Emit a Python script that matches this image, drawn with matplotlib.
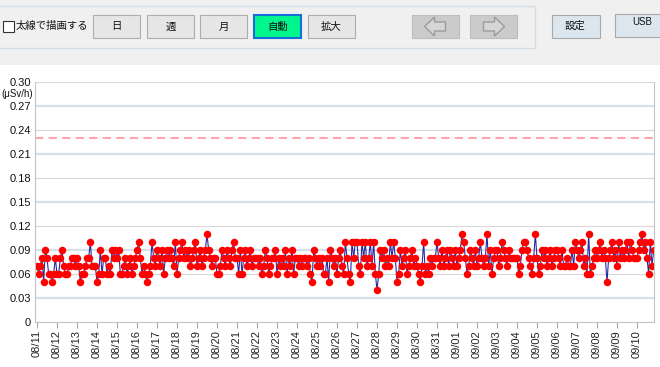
import matplotlib
matplotlib.use('Agg')
import matplotlib.pyplot as plt
import matplotlib.dates as mdates
from matplotlib.patches import Rectangle, Polygon
import numpy as np
import pandas as pd

plt.rcParams['font.family'] = ['Liberation Sans', 'Noto Sans CJK JP', 'DejaVu Sans']

# 測定開始と間隔 (2時間ごと)
start = '2019-08-11'
step = '2h'
threshold = 0.23

# 線量 (0.01 μSv/h 単位)
aug_11_16 = [7, 6, 7, 8, 5, 9, 8, 6, 6, 5, 6, 8,
             6, 6, 8, 9, 7, 6, 6, 7, 7, 8, 8, 7,
             8, 7, 5, 6, 6, 7, 8, 8, 10, 7, 7, 7,
             5, 6, 9, 6, 8, 8, 6, 7, 6, 9, 8, 9,
             8, 9, 6, 6, 7, 8, 6, 7, 8, 6, 7, 8,
             9, 10, 8, 6, 7, 6, 5, 6, 7, 10, 8, 7]
aug_17_22 = [9, 8, 7, 9, 6, 8, 9, 8, 9, 8, 7, 10,
             6, 8, 9, 10, 8, 9, 8, 9, 7, 8, 9, 10,
             7, 8, 9, 7, 8, 9, 11, 9, 8, 7, 8, 8,
             6, 6, 7, 9, 8, 7, 9, 8, 7, 9, 10, 8,
             8, 6, 9, 6, 8, 9, 7, 8, 9, 7, 8, 8,
             8, 7, 8, 6, 7, 9, 8, 6, 7, 8, 8, 9]
aug_23_28 = [6, 8, 7, 8, 7, 9, 6, 8, 7, 9, 6, 8,
             8, 7, 8, 7, 8, 8, 7, 8, 6, 5, 9, 8,
             7, 8, 7, 8, 6, 6, 8, 5, 9, 8, 7, 8,
             6, 8, 9, 7, 6, 10, 8, 6, 5, 10, 8, 10,
             10, 7, 6, 10, 8, 10, 7, 8, 10, 7, 10, 6,
             4, 6, 9, 8, 9, 7, 8, 7, 10, 8, 10, 8]
aug_29_sep_03 = [5, 6, 9, 7, 8, 9, 6, 7, 8, 9, 7, 8,
                 7, 6, 5, 7, 10, 6, 7, 6, 8, 7, 8, 8,
                 10, 8, 7, 9, 7, 8, 9, 7, 9, 8, 7, 9,
                 7, 8, 9, 11, 10, 8, 6, 7, 9, 8, 7, 9,
                 7, 8, 10, 8, 7, 8, 11, 7, 9, 6, 8, 9,
                 9, 7, 8, 10, 9, 8, 7, 9, 8, 8, 8, 8]
sep_04_10 = [8, 6, 7, 9, 10, 10, 9, 8, 7, 6, 8, 11,
             8, 6, 7, 9, 8, 9, 7, 8, 9, 7, 8, 9,
             9, 8, 7, 9, 7, 7, 8, 7, 7, 9, 7, 10,
             9, 8, 9, 10, 7, 8, 6, 11, 6, 7, 8, 9,
             8, 9, 10, 8, 9, 8, 5, 8, 9, 10, 8, 9,
             7, 10, 8, 9, 8, 9, 10, 8, 10, 9, 8, 8,
             8, 9, 10, 11, 9, 10, 8, 6, 10, 7, 9]

y_ticks = [0, 0.03, 0.06, 0.09, 0.12, 0.15, 0.18, 0.21, 0.24, 0.27, 0.30]
y_labels = ['0', '0.03', '0.06', '0.09', '0.12', '0.15', '0.18', '0.21', '0.24', '0.27', '0.30']
period_buttons = ['日', '週', '月', '自動', '拡大']

dose = np.array(aug_11_16 + aug_17_22 + aug_23_28 + aug_29_sep_03 + sep_04_10) / 100.0
times = pd.date_range(start, periods=len(dose), freq=step)

fig = plt.figure(figsize=(6.6, 3.67), dpi=100)

# 上部のツールバー (ピクセル座標)
ui = fig.add_axes([0, 0, 1, 1], zorder=-1)
ui.set_xlim(0, 660)
ui.set_ylim(367, 0)
ui.axis('off')
ui.add_patch(Rectangle((0, 0), 660, 65, fc='#f0f0f0', ec='none'))
ui.plot([0, 535, 535, 0], [6, 6, 48, 48], color='#d3dde6', lw=1)

ui.add_patch(Rectangle((3, 21), 11, 11, fc='white', ec='#333333', lw=0.8))
ui.text(16, 26.5, '太線で描画する', fontsize=7.5, va='center', ha='left', color='#111111')

btn_x = [93, 147, 200, 254, 308]
for x0, label in zip(btn_x, period_buttons):
    if label == '自動':
        ui.add_patch(Rectangle((x0, 15), 47, 23, fc='#00f58c', ec='#1470d8', lw=1.5))
    else:
        ui.add_patch(Rectangle((x0, 15), 47, 23, fc='#e6e6e6', ec='#adadad', lw=0.8))
    ui.text(x0 + 23.5, 26.5, label, fontsize=7.5, ha='center', va='center', color='#111111')

# 矢印ボタン
for x0, d in [(412, -1), (470, 1)]:
    ui.add_patch(Rectangle((x0, 15), 47, 23, fc='#cbcbcb', ec='#bdbdbd', lw=0.8))
    cx = x0 + 23.5
    tip = cx + d * 11
    base = cx + d * 1
    tail = cx - d * 10
    ui.add_patch(Polygon([(tip, 26.5), (base, 17), (base, 22), (tail, 22),
                          (tail, 31), (base, 31), (base, 36)],
                         closed=True, fc='#d6d6d6', ec='#9c9c9c', lw=1))

ui.add_patch(Rectangle((552, 15), 48, 23, fc='#dce6ee', ec='#a8a8a8', lw=0.8))
ui.text(575, 26, '設定', fontsize=7.5, ha='center', va='center', color='#111111')
ui.add_patch(Rectangle((615, 14), 50, 23, fc='#dce6ee', ec='#a8a8a8', lw=0.8))
ui.text(642, 22, 'USB', fontsize=7, ha='center', va='center', color='#111111')

ui.text(1, 94, '(μSv/h)', fontsize=7, ha='left', va='center', color='#111111')

# グラフ本体
ax = fig.add_axes([35 / 660, 45 / 367, 619 / 660, 240 / 367])
for i, t in enumerate(y_ticks):
    if i % 2 == 1:
        ax.axhline(t, color='#d4e0ea', lw=1.6, zorder=0.5)
    else:
        ax.axhline(t, color='#d8d8d8', lw=0.8, zorder=0.5)
ax.axhline(threshold, color='#ffa4ac', lw=1.5, ls=(0, (4, 2.5)), zorder=1)

ax.plot(times, dose, color='#2a2a9e', lw=0.8, marker='o', ms=5.4,
        mfc='#ff0000', mec='#ff0000', mew=0, zorder=2)

t0 = pd.Timestamp(start)
ax.set_xlim(t0 - pd.Timedelta(hours=2.4), t0 + pd.Timedelta(days=30.85))
ax.set_ylim(0, 0.30)
ax.set_yticks(y_ticks)
ax.set_yticklabels(y_labels)
ax.xaxis.set_major_locator(mdates.DayLocator())
ax.xaxis.set_major_formatter(mdates.DateFormatter('%m/%d'))
ax.tick_params(axis='x', rotation=90, length=4, color='#a8a8a8', labelsize=8, pad=2,
               labelcolor='#222222')
ax.tick_params(axis='y', length=0, labelsize=8, pad=3, labelcolor='#111111')
for s in ['left', 'right', 'bottom']:
    ax.spines[s].set_color('#c4c4c4')
    ax.spines[s].set_linewidth(0.8)
ax.spines['top'].set_visible(False)

fig.savefig('out.png', dpi=100)
